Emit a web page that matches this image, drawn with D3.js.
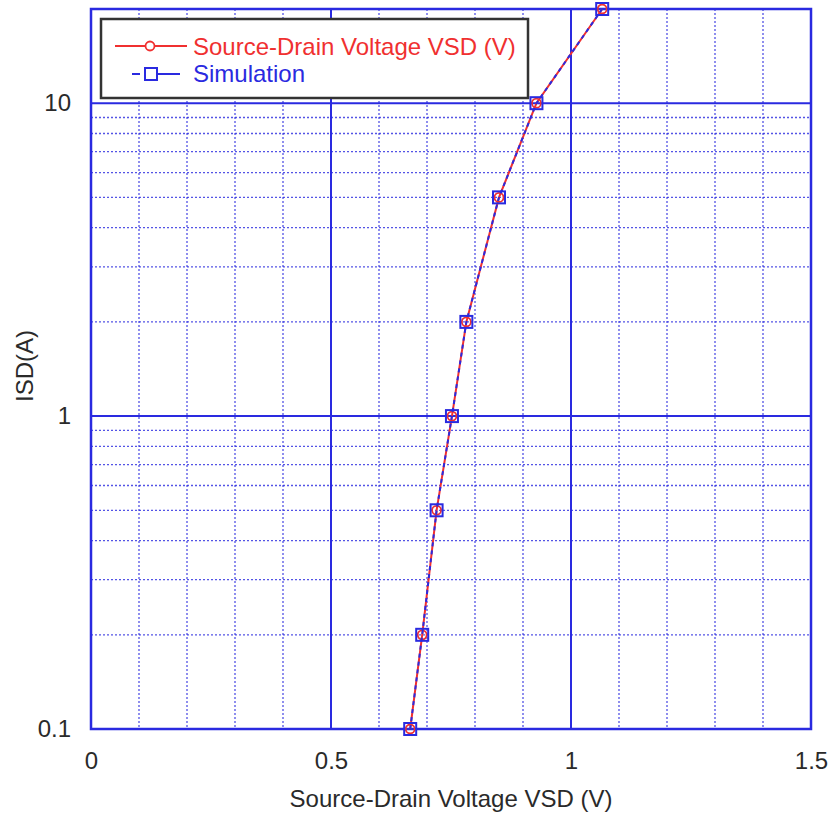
<!DOCTYPE html>
<html>
<head>
<meta charset="utf-8">
<script src="https://cdn.jsdelivr.net/npm/d3@7"></script>
<style>
  body { margin: 0; background: #fff; }
  text { font-family: "Liberation Sans", Arial, sans-serif; }
</style>
</head>
<body>
<svg id="chart" width="832" height="814"></svg>
<script>

// Measured points (VSD in V, ISD in A).
const vsdMeasured = [0.665, 0.69, 0.72, 0.752, 0.782, 0.85, 0.928, 1.065];
const isdMeasured = [0.1, 0.2, 0.5, 1, 2, 5, 10, 20];

// Simulation points.
const vsdSim = [0.665, 0.69, 0.72, 0.752, 0.782, 0.85, 0.928, 1.065];
const isdSim = [0.1, 0.2, 0.5, 1, 2, 5, 10, 20];

const xTicks = [0, 0.5, 1, 1.5];
const xMinor = [0.1, 0.2, 0.3, 0.4, 0.6, 0.7, 0.8, 0.9, 1.1, 1.2, 1.3, 1.4];
const yTicks = [0.1, 1, 10];
const yMinor = [0.2, 0.3, 0.4, 0.5, 0.6, 0.7, 0.8, 0.9, 2, 3, 4, 5, 6, 7, 8, 9];

const seriesNames = ['Source-Drain Voltage VSD (V)', 'Simulation'];

const margin = { left: 91, top: 9, right: 21, bottom: 85 };
const width = 832, height = 814;

const svg = d3.select('#chart');

const x = d3.scaleLinear().domain([0, 1.5]).range([margin.left, width - margin.right]);
const y = d3.scaleLog().domain([0.1, 20]).range([height - margin.bottom, margin.top]);

const blue = '#2a2ae0';
const red = '#f03030';
const ink = '#2a2a2a';
const fontSize = 24;

// Minor grid, dotted.
const grid = svg.append('g');
grid.selectAll('.vminor').data(xMinor).enter().append('line')
  .attr('x1', d => x(d)).attr('x2', d => x(d))
  .attr('y1', y(20)).attr('y2', y(0.1))
  .attr('stroke', blue).attr('stroke-width', 1.3).attr('stroke-dasharray', '2,2').attr('opacity', 0.8);
grid.selectAll('.hminor').data(yMinor).enter().append('line')
  .attr('x1', x(0)).attr('x2', x(1.5))
  .attr('y1', d => y(d)).attr('y2', d => y(d))
  .attr('stroke', blue).attr('stroke-width', 1.3).attr('stroke-dasharray', '2,2').attr('opacity', 0.8);

// Major grid, solid.
grid.selectAll('.vmajor').data([0.5, 1]).enter().append('line')
  .attr('x1', d => x(d)).attr('x2', d => x(d))
  .attr('y1', y(20)).attr('y2', y(0.1))
  .attr('stroke', blue).attr('stroke-width', 2);
grid.selectAll('.hmajor').data([1, 10]).enter().append('line')
  .attr('x1', x(0)).attr('x2', x(1.5))
  .attr('y1', d => y(d)).attr('y2', d => y(d))
  .attr('stroke', blue).attr('stroke-width', 2);

// Frame.
svg.append('rect')
  .attr('x', x(0)).attr('y', y(20))
  .attr('width', x(1.5) - x(0)).attr('height', y(0.1) - y(20))
  .attr('fill', 'none').attr('stroke', blue).attr('stroke-width', 2.5);

// Axes (labels only).
const xAxis = svg.append('g')
  .attr('transform', `translate(0,${y(0.1)})`)
  .call(d3.axisBottom(x).tickValues(xTicks).tickFormat(d3.format('')).tickSize(0).tickPadding(23));
const yAxis = svg.append('g')
  .attr('transform', `translate(${x(0)},0)`)
  .call(d3.axisLeft(y).tickValues(yTicks).tickFormat(d => String(d)).tickSize(0).tickPadding(20));
[xAxis, yAxis].forEach(a => {
  a.select('.domain').remove();
  a.selectAll('text').attr('font-size', fontSize).attr('fill', ink)
    .attr('font-family', '"Liberation Sans", Arial, sans-serif');
});

svg.append('text')
  .attr('x', (x(0) + x(1.5)) / 2).attr('y', 807)
  .attr('text-anchor', 'middle').attr('font-size', fontSize).attr('fill', ink)
  .text('Source-Drain Voltage VSD (V)');
svg.append('text')
  .attr('transform', `translate(33,366) rotate(-90)`)
  .attr('text-anchor', 'middle').attr('font-size', fontSize).attr('fill', ink)
  .text('ISD(A)');

// Series.
const measured = vsdMeasured.map((v, i) => [v, isdMeasured[i]]);
const sim = vsdSim.map((v, i) => [v, isdSim[i]]);
const line = d3.line().x(d => x(d[0])).y(d => y(d[1]));

svg.append('path').datum(measured).attr('d', line)
  .attr('fill', 'none').attr('stroke', red).attr('stroke-width', 2);
svg.selectAll('.circ').data(measured).enter().append('circle')
  .attr('cx', d => x(d[0])).attr('cy', d => y(d[1])).attr('r', 4.5)
  .attr('fill', 'none').attr('stroke', red).attr('stroke-width', 1.8);

svg.append('path').datum(sim).attr('d', line)
  .attr('fill', 'none').attr('stroke', blue).attr('stroke-width', 2).attr('stroke-dasharray', '4,4');
svg.selectAll('.sq').data(sim).enter().append('rect')
  .attr('x', d => x(d[0]) - 6).attr('y', d => y(d[1]) - 6)
  .attr('width', 12).attr('height', 12)
  .attr('fill', 'none').attr('stroke', blue).attr('stroke-width', 2);

// Legend.
const legend = svg.append('g');
legend.append('rect')
  .attr('x', 101).attr('y', 19).attr('width', 427).attr('height', 79)
  .attr('fill', '#fff').attr('stroke', '#333').attr('stroke-width', 2.5);

legend.append('line').attr('x1', 115).attr('x2', 187).attr('y1', 46).attr('y2', 46)
  .attr('stroke', red).attr('stroke-width', 2);
legend.append('circle').attr('cx', 150).attr('cy', 46).attr('r', 4.5)
  .attr('fill', '#fff').attr('stroke', red).attr('stroke-width', 1.8);
legend.append('text').attr('x', 193).attr('y', 55).attr('font-size', fontSize).attr('fill', red)
  .text(seriesNames[0]);

legend.append('line').attr('x1', 132).attr('x2', 140).attr('y1', 74).attr('y2', 74)
  .attr('stroke', blue).attr('stroke-width', 2);
legend.append('line').attr('x1', 157).attr('x2', 180).attr('y1', 74).attr('y2', 74)
  .attr('stroke', blue).attr('stroke-width', 2);
legend.append('rect').attr('x', 145).attr('y', 68).attr('width', 12).attr('height', 12)
  .attr('fill', '#fff').attr('stroke', blue).attr('stroke-width', 2);
legend.append('text').attr('x', 193).attr('y', 82).attr('font-size', fontSize).attr('fill', blue)
  .text(seriesNames[1]);

</script>
</body>
</html>
